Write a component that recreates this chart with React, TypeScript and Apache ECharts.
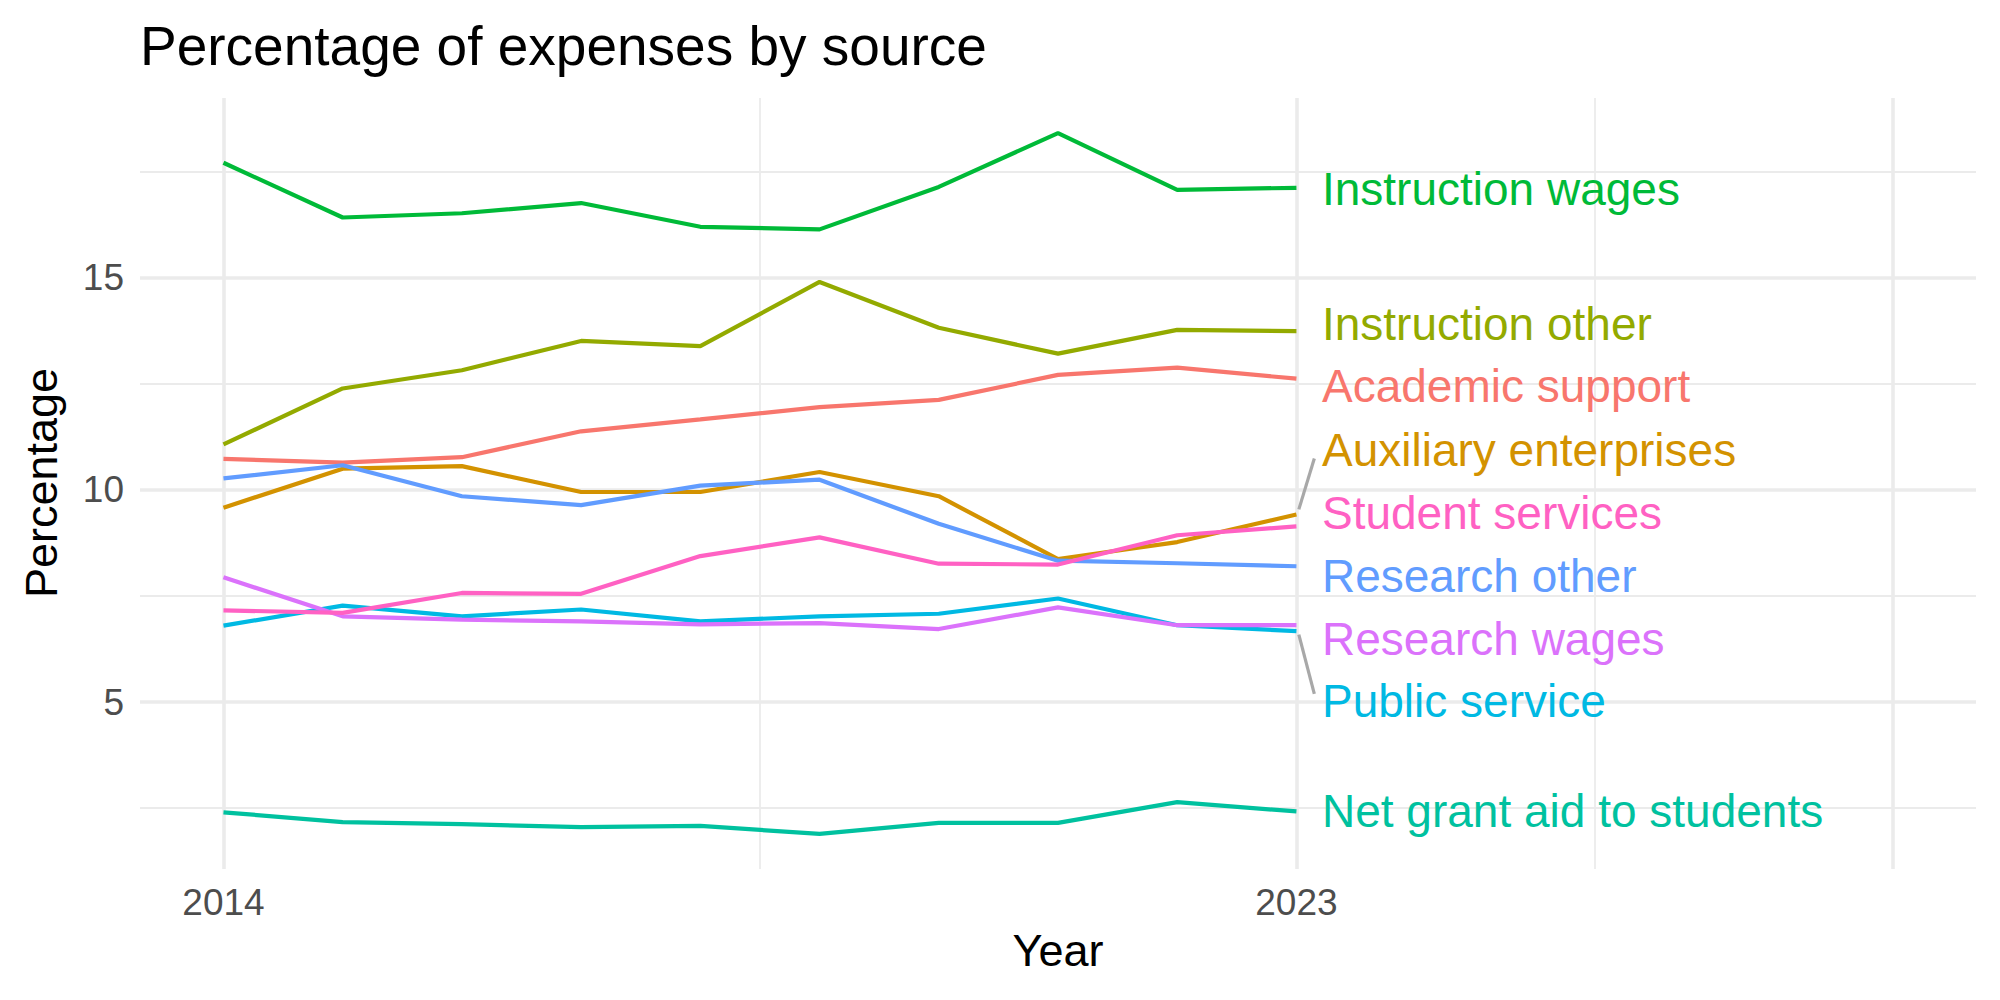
import React, { useEffect, useRef } from "react";
import * as echarts from "echarts";

const FONT = "'Liberation Sans', Arial, Helvetica, sans-serif";

const years = [2014, 2015, 2016, 2017, 2018, 2019, 2020, 2021, 2022, 2023];

const seriesNames = [
  "Academic support",
  "Auxiliary enterprises",
  "Instruction other",
  "Instruction wages",
  "Net grant aid to students",
  "Public service",
  "Research other",
  "Research wages",
  "Student services",
];

const seriesColors = [
  "#F8766D",
  "#D39200",
  "#93AA00",
  "#00BA38",
  "#00C19F",
  "#00B9E3",
  "#619CFF",
  "#DB72FB",
  "#FF61C3",
];

const academicSupport = [10.73, 10.64, 10.77, 11.38, 11.66, 11.95, 12.12, 12.71, 12.88, 12.62];
const auxiliaryEnterprises = [9.58, 10.5, 10.56, 9.95, 9.95, 10.42, 9.85, 8.37, 8.77, 9.42];
const instructionOther = [11.07, 12.39, 12.82, 13.51, 13.39, 14.9, 13.82, 13.21, 13.77, 13.74];
const instructionWages = [17.71, 16.42, 16.52, 16.76, 16.2, 16.14, 17.14, 18.41, 17.07, 17.12];
const netGrantAid = [2.4, 2.17, 2.12, 2.05, 2.08, 1.89, 2.15, 2.15, 2.64, 2.42];
const publicService = [6.8, 7.27, 7.02, 7.18, 6.9, 7.02, 7.08, 7.44, 6.81, 6.67];
const researchOther = [10.27, 10.58, 9.85, 9.64, 10.1, 10.24, 9.2, 8.33, 8.27, 8.2];
const researchWages = [7.94, 7.02, 6.94, 6.9, 6.83, 6.86, 6.72, 7.23, 6.81, 6.81];
const studentServices = [7.16, 7.1, 7.57, 7.55, 8.44, 8.88, 8.26, 8.24, 8.93, 9.14];

const seriesValues = [
  academicSupport,
  auxiliaryEnterprises,
  instructionOther,
  instructionWages,
  netGrantAid,
  publicService,
  researchOther,
  researchWages,
  studentServices,
];

// repelled label positions (data units), same order as seriesNames
const labelX = 2023.21;
const labelY = [12.45, 10.94, 13.92, 17.1, 2.42, 5.02, 7.96, 6.49, 9.46];

// connector segments from line end to repelled label
const connectorAux = [
  [2023.02, 9.54],
  [2023.15, 10.74],
];
const connectorPublic = [
  [2023.02, 6.59],
  [2023.15, 5.19],
];

const xMajorTicks = [2014, 2023, 2028];
const xTickLabels = [2014, 2023];
const xMinorTicks = [2018.5, 2025.5];
const yMajorTicks = [5, 10, 15];
const yMinorTicks = [2.5, 7.5, 12.5, 17.5];

const X_MIN = 2013.3;
const X_MAX = 2028.7;
const Y_MIN = 1.064;
const Y_MAX = 19.236;

export default function App() {
  const ref = useRef<HTMLDivElement>(null);

  useEffect(() => {
    if (!ref.current) return;
    const chart = echarts.init(ref.current, undefined, { renderer: "svg" });

    const gridColor = "#EBEBEB";

    const baseX = {
      type: "value" as const,
      min: X_MIN,
      max: X_MAX,
      gridIndex: 0,
      position: "bottom" as const,
      axisLine: { show: false },
    };
    const baseY = {
      type: "value" as const,
      min: Y_MIN,
      max: Y_MAX,
      gridIndex: 0,
      position: "left" as const,
      axisLine: { show: false },
    };

    const lineSeries = seriesNames.map((name, i) => ({
      type: "line",
      name,
      xAxisIndex: 0,
      yAxisIndex: 0,
      data: years.map((yr, j) => [yr, seriesValues[i][j]]),
      showSymbol: false,
      symbol: "none",
      lineStyle: { color: seriesColors[i], width: 4.2, opacity: 1 },
      itemStyle: { color: seriesColors[i] },
      z: 3,
      silent: true,
    }));

    const connectorSeries = [connectorAux, connectorPublic].map((seg, i) => ({
      type: "line",
      name: "connector" + i,
      xAxisIndex: 0,
      yAxisIndex: 0,
      data: seg,
      showSymbol: false,
      symbol: "none",
      lineStyle: { color: "#A8A8A8", width: 3.2 },
      z: 2,
      silent: true,
    }));

    const labelSeries = seriesNames.map((name, i) => ({
      type: "scatter",
      name: name + " label",
      xAxisIndex: 0,
      yAxisIndex: 0,
      data: [[labelX, labelY[i]]],
      symbol: "circle",
      symbolSize: 1,
      itemStyle: { color: "rgba(0,0,0,0)" },
      silent: true,
      z: 4,
      label: {
        show: true,
        position: "right",
        distance: 0,
        formatter: name,
        color: seriesColors[i],
        opacity: 1,
        textBorderWidth: 0,
        fontSize: 46,
        fontFamily: FONT,
        align: "left",
        verticalAlign: "middle",
      },
    }));

    chart.setOption({
      animation: false,
      backgroundColor: "#FFFFFF",
      title: {
        text: "Percentage of expenses by source",
        left: 140,
        top: 18,
        padding: 0,
        textStyle: {
          fontSize: 55,
          fontWeight: "normal",
          color: "#000000",
          fontFamily: FONT,
        },
      },
      grid: {
        left: 140,
        right: 24,
        top: 98,
        bottom: 131,
        containLabel: false,
        outerBoundsMode: "none",
      },
      xAxis: [
        {
          ...baseX,
          axisTick: { show: false, customValues: xMajorTicks },
          axisLabel: {
            show: true,
            customValues: xTickLabels,
            formatter: (v: number) => String(Math.round(v)),
            fontSize: 37,
            color: "#4D4D4D",
            fontFamily: FONT,
            margin: 15,
          },
          splitLine: { show: true, lineStyle: { color: gridColor, width: 3.6 } },
        },
        {
          ...baseX,
          axisTick: { show: false, customValues: xMinorTicks },
          axisLabel: { show: false },
          splitLine: { show: true, lineStyle: { color: gridColor, width: 1.8 } },
        },
      ],
      yAxis: [
        {
          ...baseY,
          axisTick: { show: false, customValues: yMajorTicks },
          axisLabel: {
            show: true,
            customValues: yMajorTicks,
            formatter: (v: number) => String(v),
            fontSize: 37,
            color: "#4D4D4D",
            fontFamily: FONT,
            margin: 16,
          },
          splitLine: { show: true, lineStyle: { color: gridColor, width: 3.6 } },
        },
        {
          ...baseY,
          axisTick: { show: false, customValues: yMinorTicks },
          axisLabel: { show: false },
          splitLine: { show: true, lineStyle: { color: gridColor, width: 1.8 } },
        },
      ],
      graphic: [
        {
          type: "text",
          x: 1058,
          y: 950,
          style: {
            text: "Year",
            fontSize: 45,
            fontFamily: FONT,
            fill: "#000000",
            align: "center",
            verticalAlign: "middle",
          },
        },
        {
          type: "text",
          x: 41,
          y: 483,
          rotation: Math.PI / 2,
          style: {
            text: "Percentage",
            fontSize: 45,
            fontFamily: FONT,
            fill: "#000000",
            align: "center",
            verticalAlign: "middle",
          },
        },
      ],
      series: [...connectorSeries, ...lineSeries, ...labelSeries],
    });

    return () => {
      chart.dispose();
    };
  }, []);

  return (
    <div
      ref={ref}
      style={{ position: "fixed", left: 0, top: 0, width: 2000, height: 1000 }}
    />
  );
}
